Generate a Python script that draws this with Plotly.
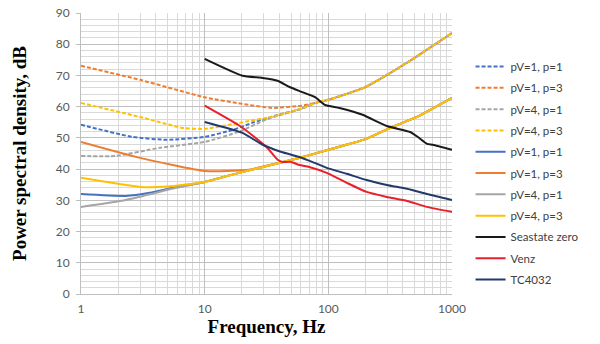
import plotly.graph_objects as go

# shared high-frequency tails (curves merge there)
dash_tail_f = [80, 100, 200, 430, 1000]
dash_tail_db = [61.3, 62.2, 66.3, 74.0, 83.6]
solid_tail_f = [60, 100, 200, 330, 520, 1000]
solid_tail_db = [43.7, 46.2, 49.6, 53.5, 56.7, 62.8]

# dashed family
d11_f = [1, 2.6, 4.9, 10, 17, 25, 35, 60]
d11_db = [54.2, 50.3, 49.4, 50.3, 52.6, 55.0, 56.8, 59.3]
d13_f = [1, 3, 10, 20, 35, 60]
d13_db = [73.1, 68.6, 63.0, 60.9, 59.6, 60.3]
d41_f = [1, 1.9, 4.3, 10, 19, 32, 60]
d41_db = [44.2, 44.2, 46.8, 48.7, 52.0, 56.0, 59.3]
d43_f = [1, 3, 6.6, 10, 19, 35, 60]
d43_db = [61.2, 56.7, 53.2, 52.9, 54.8, 56.8, 59.3]

# solid family
s11_f = [1, 2.3, 3.6, 5.9, 10, 19, 43]
s11_db = [32.0, 31.4, 32.4, 34.3, 35.9, 38.8, 42.3]
s13_f = [1, 3, 10, 22, 43]
s13_db = [48.7, 43.6, 39.4, 39.7, 42.3]
s41_f = [1, 2.3, 5.9, 10, 19, 43]
s41_db = [27.9, 30.1, 34.0, 35.9, 38.8, 42.3]
s43_f = [1, 3, 5, 10, 19, 43]
s43_db = [37.2, 34.3, 34.4, 35.9, 38.8, 42.3]

sea_f = [10, 20.2, 29.4, 38.9, 48.6, 58.5, 77.6, 93.6, 123, 189, 297, 458, 530, 628, 700, 1000]
sea_db = [75.3, 69.9, 69.2, 68.3, 66.3, 65.0, 63.1, 60.6, 59.6, 57.4, 53.8, 51.9, 50.3, 48.1, 47.8, 46.2]
venz_f = [10, 19.8, 31.6, 38.9, 42.7, 50, 58.5, 70, 97, 141, 204, 297, 433, 628, 1000]
venz_db = [60.3, 53.5, 47.1, 43.0, 42.3, 42.3, 41.3, 40.7, 38.8, 35.6, 32.7, 31.1, 29.8, 27.9, 26.3]
tc_f = [10, 20.2, 29.4, 41.8, 58.5, 77.6, 97, 141, 204, 297, 433, 628, 1000]
tc_db = [55.1, 51.6, 47.8, 45.5, 43.9, 42.0, 40.4, 38.5, 36.5, 34.9, 33.7, 32.0, 30.1]

blue, orange, gray, yellow = '#4472C4', '#ED7D31', '#A5A5A5', '#FFC000'

series = [
  ('pV=1, p=1', d11_f + dash_tail_f, d11_db + dash_tail_db, blue, '4px,2px'),
  ('pV=1, p=3', d13_f + dash_tail_f, d13_db + dash_tail_db, orange, '4px,2px'),
  ('pV=4, p=1', d41_f + dash_tail_f, d41_db + dash_tail_db, gray, '4px,2px'),
  ('pV=4, p=3', d43_f + dash_tail_f, d43_db + dash_tail_db, yellow, '4px,2px'),
  ('pV=1, p=1', s11_f + solid_tail_f, s11_db + solid_tail_db, blue, 'solid'),
  ('pV=1, p=3', s13_f + solid_tail_f, s13_db + solid_tail_db, orange, 'solid'),
  ('pV=4, p=1', s41_f + solid_tail_f, s41_db + solid_tail_db, gray, 'solid'),
  ('pV=4, p=3', s43_f + solid_tail_f, s43_db + solid_tail_db, yellow, 'solid'),
  ('Seastate zero', sea_f, sea_db, '#1a1a1a', 'solid'),
  ('Venz', venz_f, venz_db, '#E8202A', 'solid'),
  ('TC4032', tc_f, tc_db, '#23396B', 'solid'),
]

fig = go.Figure()
for i, (name, f, db, col, dash) in enumerate(series):
  # own legendgroup per trace so tracegroupgap spaces the entries like the original
  fig.add_trace(go.Scatter(x=f, y=db, name=name, mode='lines', legendgroup='g%d' % i,
                           line=dict(color=col, width=2, dash=dash, shape='spline', smoothing=0.5)))

tickfont = dict(family='Lato, Open Sans, sans-serif', size=12, color='#595959')
titlefont = dict(family='Liberation Serif', size=19, color='black', weight='bold')
fig.update_xaxes(type='log', range=[0, 3], tickvals=[1, 10, 100, 1000], ticktext=['1', '10', '100', '1000'],
                 showgrid=True, gridcolor='#BFBFBF', gridwidth=1, zeroline=False, automargin=False,
                 minor=dict(dtick='D1', showgrid=True, gridcolor='#D9D9D9', gridwidth=1),
                 tickfont=tickfont, ticks='', ticklabelstandoff=4, showline=True, linecolor='#BFBFBF',
                 ticklabeloverflow='allow',
                 title=dict(text='Frequency, Hz', standoff=2, font=titlefont))
fig.update_yaxes(range=[0, 90], dtick=10, showgrid=True, gridcolor='#BFBFBF', gridwidth=1, zeroline=False,
                 minor=dict(dtick=2, showgrid=True, gridcolor='#D9D9D9', gridwidth=1), automargin=False,
                 tickfont=tickfont, ticks='outside', ticklen=4, tickcolor='#BFBFBF', ticklabelstandoff=4,
                 showline=True, linecolor='#BFBFBF', ticklabeloverflow='allow',
                 title=dict(text='Power spectral density, dB', standoff=24, font=titlefont))
fig.update_layout(width=600, height=344, plot_bgcolor='white', paper_bgcolor='white',
                  margin=dict(l=81, r=148, t=13, b=50),
                  legend=dict(x=1.05, y=0.861, xanchor='left', yanchor='top', bgcolor='rgba(0,0,0,0)',
                              font=dict(family='Lato, Open Sans, sans-serif', size=11.5, color='#404040'),
                              itemwidth=30, tracegroupgap=2.3))
# drop the browser's default 8px body margin so the figure fills the window
fig.write_html('out.html', config={'displayModeBar': False},
               post_script="document.body.style.margin='0px';")
